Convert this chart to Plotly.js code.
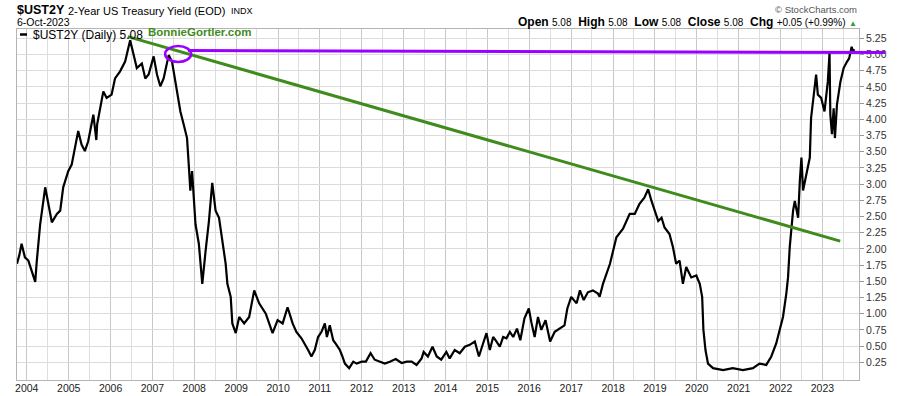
<!DOCTYPE html>
<html><head><meta charset="utf-8">
<script src="https://cdn.plot.ly/plotly-3.0.1.min.js"></script>
<style>html,body{margin:0;padding:0;background:#fff}#chart{width:900px;height:396px}</style>
</head><body><div id="chart"></div>
<script>
const dates = ['2003-10-08','2003-10-28','2003-11-17','2003-12-16','2004-01-15','2004-02-14','2004-03-15','2004-03-28','2004-04-27','2004-06-10','2004-07-05','2004-08-07','2004-09-20','2004-10-19','2004-11-14','2004-12-28','2005-01-27','2005-03-25','2005-04-23','2005-05-22','2005-06-20','2005-08-04','2005-08-30','2005-09-06','2005-10-30','2005-11-28','2006-01-10','2006-02-09','2006-03-25','2006-05-08','2006-06-21','2006-07-20','2006-08-18','2006-10-01','2006-10-31','2006-11-29','2007-01-12','2007-02-10','2007-03-11','2007-04-09','2007-05-23','2007-06-21','2007-07-20','2007-08-18','2007-09-02','2007-10-01','2007-10-30','2007-11-14','2007-11-28','2007-12-13','2008-01-12','2008-02-10','2008-03-11','2008-04-09','2008-05-08','2008-06-06','2008-07-05','2008-08-04','2008-09-02','2008-10-01','2008-10-16','2008-11-14','2008-11-28','2008-12-28','2009-01-27','2009-03-11','2009-04-24','2009-06-07','2009-07-20','2009-09-16','2009-11-14','2009-12-28','2010-02-10','2010-03-25','2010-05-08','2010-06-10','2010-07-24','2010-08-22','2010-09-20','2010-10-19','2010-11-17','2010-12-16','2011-01-15','2011-02-13','2011-03-03','2011-03-28','2011-04-27','2011-05-26','2011-06-24','2011-07-16','2011-08-07','2011-09-13','2011-10-19','2011-11-17','2012-01-01','2012-02-06','2012-03-18','2012-04-23','2012-06-06','2012-07-20','2012-09-02','2012-10-23','2012-12-14','2013-01-27','2013-03-11','2013-04-23','2013-06-06','2013-06-24','2013-07-31','2013-09-09','2013-10-16','2013-11-24','2014-01-08','2014-02-06','2014-03-22','2014-05-05','2014-06-18','2014-07-31','2014-09-13','2014-10-19','2014-11-24','2014-12-24','2015-01-22','2015-02-20','2015-03-22','2015-04-19','2015-05-18','2015-06-16','2015-07-16','2015-08-14','2015-09-16','2015-10-15','2015-11-20','2015-12-28','2016-01-19','2016-02-17','2016-03-17','2016-04-15','2016-05-22','2016-06-13','2016-07-01','2016-08-10','2016-09-20','2016-11-03','2016-11-28','2017-01-01','2017-02-17','2017-03-18','2017-04-20','2017-05-26','2017-07-09','2017-08-22','2017-09-06','2017-10-05','2017-12-05','2018-01-30','2018-03-29','2018-05-26','2018-07-09','2018-08-18','2018-10-01','2018-11-03','2018-12-02','2019-01-01','2019-01-30','2019-02-28','2019-03-26','2019-05-08','2019-06-07','2019-07-05','2019-08-04','2019-09-02','2019-10-01','2019-11-14','2019-12-28','2020-01-27','2020-02-17','2020-02-28','2020-03-17','2020-04-08','2020-05-22','2020-08-18','2020-11-10','2021-02-06','2021-05-05','2021-07-01','2021-08-29','2021-10-12','2021-11-24','2021-12-24','2022-01-22','2022-02-20','2022-03-07','2022-03-22','2022-04-05','2022-04-20','2022-05-05','2022-06-03','2022-06-18','2022-07-02','2022-07-16','2022-08-15','2022-09-13','2022-09-24','2022-10-09','2022-11-07','2022-11-22','2022-12-21','2023-01-19','2023-02-17','2023-03-04','2023-03-11','2023-03-25','2023-04-09','2023-04-20','2023-05-08','2023-06-07','2023-07-05','2023-08-04','2023-08-22','2023-09-13','2023-09-24','2023-10-06'];
const yields = [1.77,1.90,2.08,1.87,1.82,1.67,1.49,1.80,2.38,2.95,2.69,2.41,2.54,2.59,2.95,3.20,3.30,3.82,3.61,3.51,3.66,4.07,3.68,3.92,4.43,4.33,4.38,4.63,4.74,4.89,5.22,4.99,4.79,4.86,4.63,4.69,4.97,4.69,4.51,4.63,4.99,4.89,4.58,4.28,4.12,3.92,3.71,3.30,2.90,3.20,2.38,2.08,1.46,1.97,2.43,3.02,2.59,2.48,2.13,1.77,1.46,1.26,0.85,0.70,0.95,0.85,0.95,1.36,1.16,1.00,0.70,0.90,0.85,1.10,0.85,0.72,0.62,0.54,0.44,0.34,0.44,0.64,0.72,0.85,0.64,0.82,0.59,0.52,0.44,0.34,0.23,0.16,0.26,0.23,0.26,0.26,0.39,0.29,0.26,0.23,0.26,0.30,0.24,0.26,0.26,0.21,0.31,0.41,0.34,0.49,0.34,0.29,0.41,0.31,0.44,0.39,0.49,0.52,0.57,0.34,0.54,0.70,0.44,0.64,0.57,0.49,0.64,0.62,0.72,0.64,0.77,0.59,0.93,1.08,0.87,0.64,0.95,0.75,0.90,0.70,0.57,0.72,0.77,0.82,1.08,1.26,1.16,1.36,1.21,1.33,1.36,1.31,1.26,1.46,1.77,2.18,2.31,2.54,2.54,2.69,2.79,2.92,2.74,2.59,2.43,2.48,2.33,2.23,2.03,1.77,1.82,1.46,1.72,1.56,1.59,1.46,1.26,0.75,0.44,0.23,0.16,0.13,0.16,0.13,0.16,0.23,0.21,0.34,0.54,0.75,0.95,1.31,1.56,2.03,2.28,2.59,2.74,2.48,3.05,3.41,2.90,3.15,3.41,4.02,4.28,4.69,4.38,4.33,4.12,4.58,5.02,4.07,3.77,4.17,3.71,4.23,4.58,4.79,4.89,4.94,5.12,5.04,5.08];

const trendDates = ['2006-06-01','2023-06-05'];
const trendValues = [5.275, 2.12];
const resistanceValues = [5.06, 5.03];
const circleDates = ['2007-04-22','2007-12-05'];
const circleValues = [4.884, 5.131];
const yTickVals = [0.25,0.50,0.75,1.00,1.25,1.50,1.75,2.00,2.25,2.50,2.75,3.00,3.25,3.50,3.75,4.00,4.25,4.50,4.75,5.00,5.25];
const yTickText = ['0.25','0.50','0.75','1.00','1.25','1.50','1.75','2.00','2.25','2.50','2.75','3.00','3.25','3.50','3.75','4.00','4.25','4.50','4.75','5.00','5.25'];
const xRange = ['2003-10-08','2023-11-16'];
const yRange = [-0.023, 5.393];

const FONT = 'Liberation Sans, Arial, sans-serif';
const PURPLE = '#9a00ff';
const GREEN = '#3f8c1d';
const NB = '\u00a0';

const trace = {
  x: dates, y: yields, type: 'scatter', mode: 'lines',
  line: {color: '#000', width: 2.2}, hoverinfo: 'skip', showlegend: false
};

const sp = (v) => '<span style="font-size:10px">' + v + '</span>';
const openLine = '<b>Open</b> ' + sp('5.08') + NB + NB + '<b>High</b> ' + sp('5.08') + NB + NB +
  '<b>Low</b> ' + sp('5.08') + NB + NB + '<b>Close</b> ' + sp('5.08') + NB + NB +
  '<b>Chg</b> ' + sp('+0.05 (+0.99%)') + ' <span style="font-size:8px;fill:#3a9a3a">▲</span>';

const px = (v) => (v - 17) / 842;
const py = (v) => (380 - v) / 351;

function ann(x, y, text, size, color, anchor, bold) {
  return {xref: 'paper', yref: 'paper', x: px(x), y: py(y), xanchor: anchor || 'left', yanchor: 'middle',
    showarrow: false, borderpad: 0, text: text,
    font: {family: FONT, size: size, color: color, weight: bold ? 'bold' : 'normal'}};
}

const layout = {
  width: 900, height: 396,
  margin: {l: 17, r: 41, t: 29, b: 16, pad: 0},
  paper_bgcolor: '#fff', plot_bgcolor: '#fff',
  font: {family: FONT, color: '#222', size: 11},
  showlegend: false,
  xaxis: {
    type: 'date', range: xRange, tick0: '2004-01-01', dtick: 'M12', tickformat: '%Y',
    showgrid: true, gridcolor: '#c8c8c8', gridwidth: 1,
    minor: {dtick: 'M6', showgrid: true, gridcolor: '#dedede', gridwidth: 1},
    showline: true, linecolor: '#b4b4b4', linewidth: 1, mirror: true,
    ticks: '', ticklabelstandoff: -2,
    tickfont: {size: 10.5, color: '#222', family: FONT}, zeroline: false, fixedrange: true
  },
  yaxis: {
    range: yRange, side: 'right', tickmode: 'array', tickvals: yTickVals, ticktext: yTickText,
    showgrid: true, gridcolor: '#dcdcdc', gridwidth: 1,
    showline: true, linecolor: '#b4b4b4', linewidth: 1, mirror: true,
    ticks: 'outside', ticklen: 4, tickcolor: '#999', tickfont: {size: 10.5, color: '#333', family: FONT},
    zeroline: false, fixedrange: true
  },
  shapes: [
    {type: 'line', xref: 'x', yref: 'y', x0: trendDates[0], x1: trendDates[1], y0: trendValues[0], y1: trendValues[1],
     line: {color: GREEN, width: 3}},
    {type: 'line', xref: 'paper', yref: 'y', x0: 0.203, x1: 1.031, y0: resistanceValues[0], y1: resistanceValues[1],
     line: {color: PURPLE, width: 3}},
    {type: 'circle', xref: 'x', yref: 'y', x0: circleDates[0], x1: circleDates[1], y0: circleValues[0], y1: circleValues[1],
     line: {color: PURPLE, width: 2.5}},
    {type: 'line', xref: 'paper', yref: 'paper', x0: px(20), x1: px(27), y0: py(34.5), y1: py(34.5),
     line: {color: '#000', width: 2.5}}
  ],
  annotations: [
    ann(16, 10, '$UST2Y', 12.5, '#000', 'left', true),
    ann(67, 10.5, '2-Year US Treasury Yield (EOD)', 11, '#000'),
    ann(230, 11, 'INDX', 9, '#000'),
    ann(16, 22.5, '6-Oct-2023', 10.5, '#000'),
    ann(858, 9.5, '© StockCharts.com', 9.5, '#555', 'right'),
    {xref: 'paper', yref: 'paper', x: px(858), y: py(22.5), xanchor: 'right', yanchor: 'middle', showarrow: false, borderpad: 0,
     text: openLine, font: {family: FONT, size: 12, color: '#000'}},
    ann(32, 34.5, '$UST2Y (Daily) 5.08', 12, '#000'),
    ann(147, 31.5, 'BonnieGortler.com', 11.5, GREEN, 'left', true)
  ]
};

Plotly.newPlot('chart', [trace], layout, {staticPlot: true, displayModeBar: false});
</script></body></html>
